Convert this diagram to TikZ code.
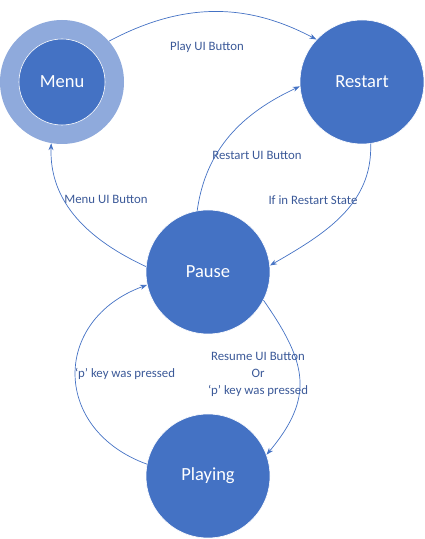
\documentclass[tikz,border=0pt]{standalone}
\usepackage{fontspec}
\setmainfont{Carlito}
\usetikzlibrary{arrows.meta}
\definecolor{stateblue}{HTML}{4472C4}
\definecolor{ringblue}{HTML}{8FAADC}
\definecolor{labelblue}{RGB}{59,89,152}
\begin{document}
\begin{tikzpicture}[x=1pt,y=1pt]
 \tikzset{state/.style = {circle, fill=stateblue, draw=white, line width=0.6pt, minimum size=124pt, inner sep=0pt, text=white, font=\fontsize{18.5}{20}\selectfont}}
 \tikzset{trans/.style = {draw=stateblue, line width=0.7pt, -{Stealth[length=7pt,width=5pt]}}}
 \tikzset{tlabel/.style = {text=labelblue, font=\fontsize{12.8}{17}\selectfont, align=center, inner sep=0pt}}
 \useasboundingbox (0,0) rectangle (425,539);

 % states
 \node[circle, fill=ringblue, minimum size=124pt, inner sep=0pt] (menuring) at (62,457) {};
 \node[state, minimum size=86pt] (menu) at (62,457) {Menu};
 \node[state] (restart) at (362,457) {Restart};
 \node[state] (pause) at (208,267) {Pause};
 \node[state] (playing) at (208,63) {Playing};

 % transitions
 \draw[trans] (menuring.41) to[out=28,in=152] (restart.137);
 \draw[trans] (pause.100) to[out=82,in=205] (restart.184);
 \draw[trans] (restart.278) to[out=272,in=30] (pause.6);
 \draw[trans] (pause.175) to[out=155,in=268] (menuring.260);
 \draw[trans] (playing.169) to[out=160,in=200,looseness=1.45] (pause.192);
 \draw[trans] (pause.333) to[out=-55,in=50,looseness=1.25] (playing.20);

 % labels
 \node[tlabel] (lplay) at (207,492) {Play UI Button};
 \node[tlabel] (lrestart) at (257,384) {Restart UI Button};
 \node[tlabel] (lstate) at (313,339) {If in Restart State};
 \node[tlabel] (lmenu) at (106,340) {Menu UI Button};
 \node[tlabel] (lkey) at (125,165) {‘p’ key was pressed};
 \node[tlabel] (lresume) at (258,165) {Resume UI Button\\Or\\‘p’ key was pressed};
\end{tikzpicture}
\end{document}
